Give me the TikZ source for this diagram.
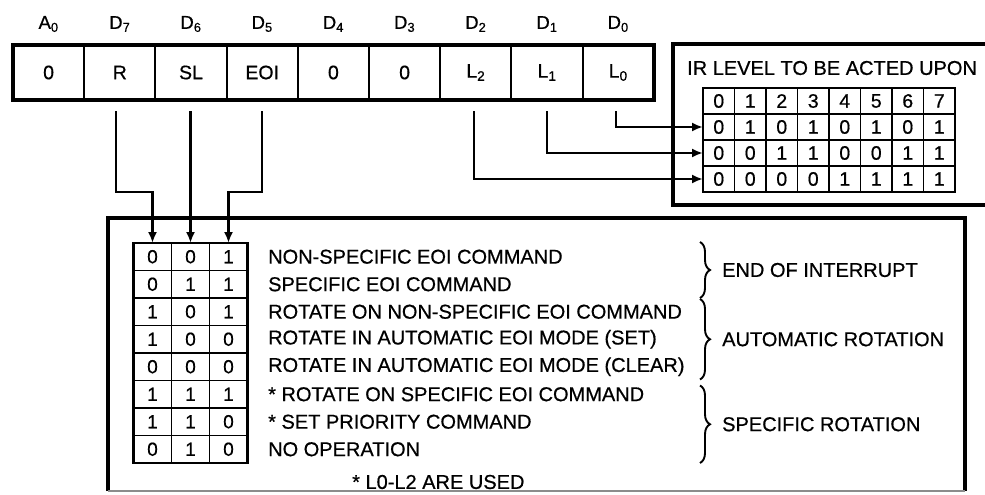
\documentclass[tikz,border=0pt]{standalone}
\usepackage{fontspec}
\setmainfont{Liberation Sans}[FakeBold=0.6]
\usetikzlibrary{arrows.meta,calc,decorations.pathreplacing}
\begin{document}
\begin{tikzpicture}[x=1pt,y=-1pt,
  regcell/.style={draw,line width=2pt,minimum width=71.2pt,minimum height=55pt,inner sep=0pt,outer sep=0pt,font=\fontsize{19.5}{22}\selectfont},
  reglab/.style={inner sep=0pt,font=\fontsize{18.5}{20}\selectfont},
  ircell/.style={draw,line width=1.8pt,minimum width=31.5pt,minimum height=26pt,inner sep=0pt,outer sep=0pt,font=\fontsize{19.5}{22}\selectfont},
  ltcell/.style={draw,line width=1.8pt,minimum width=38pt,minimum height=27.5pt,inner sep=0pt,outer sep=0pt,font=\fontsize{19}{22}\selectfont},
  frame/.style={line width=3.4pt,inner sep=0pt,outer sep=0pt},
  txt/.style={anchor=west,inner sep=0pt,font=\fontsize{20}{22}\selectfont},
  arr/.style={line width=2.2pt,-{Latex[length=11pt,width=9pt]}},
  bracestyle/.style={line width=1.9pt,decorate,decoration={brace,amplitude=10pt}}]
\useasboundingbox (0,0) rectangle (985,495);
\clip (0,0) rectangle (985,495);
\fill[white] (0,0) rectangle (985,495);

% register
\foreach \t [count=\i from 0] in {0,R,SL,EOI,0,0,L\textsubscript{2},L\textsubscript{1},L\textsubscript{0}}
  \node[regcell] (reg\i) at (48.6+71.2*\i,72.5) {\t};
\foreach \t [count=\i from 0] in {A\textsubscript{0},D\textsubscript{7},D\textsubscript{6},D\textsubscript{5},D\textsubscript{4},D\textsubscript{3},D\textsubscript{2},D\textsubscript{1},D\textsubscript{0}}
  \node[reglab] (lab\i) at (48.6+71.2*\i,24) {\t};
\draw[frame] (reg0.north west) rectangle (reg8.south east);

% IR box
\node[frame,draw,anchor=north west,minimum width=340pt,minimum height=161pt] (irbox) at (673,44) {};
\node[txt] (irtitle) at (687,68) {IR LEVEL TO BE ACTED UPON};
\foreach \c in {1,...,8}{
  \pgfmathtruncatemacro{\v}{\c-1}
  \pgfmathtruncatemacro{\ba}{mod(\v,2)}
  \pgfmathtruncatemacro{\bb}{mod(floor(\v/2),2)}
  \pgfmathtruncatemacro{\bc}{mod(floor(\v/4),2)}
  \node[ircell] (ir-1-\c) at (703+15.75+31.5*\c-31.5,101) {\v};
  \node[ircell] (ir-2-\c) at (703+15.75+31.5*\c-31.5,127) {\ba};
  \node[ircell] (ir-3-\c) at (703+15.75+31.5*\c-31.5,153) {\bb};
  \node[ircell] (ir-4-\c) at (703+15.75+31.5*\c-31.5,179) {\bc};
}
\draw[line width=2.2pt] (ir-1-1.north west) rectangle (ir-4-8.south east);

% lower box
\node[frame,anchor=north west,minimum width=857pt,minimum height=273pt] (lowbox) at (108,218) {};
\draw[frame] (lowbox.south west) -- (lowbox.north west) -- (lowbox.north east) -- (lowbox.south east);
\draw[black!45,line width=1.2pt] (lowbox.south west) -- (lowbox.south east);

\foreach \a/\b/\cc/\d [count=\r] in {
  0/0/1/{NON-SPECIFIC EOI COMMAND},
  0/1/1/{SPECIFIC EOI COMMAND},
  1/0/1/{ROTATE ON NON-SPECIFIC EOI COMMAND},
  1/0/0/{ROTATE IN AUTOMATIC EOI MODE (SET)},
  0/0/0/{ROTATE IN AUTOMATIC EOI MODE (CLEAR)},
  1/1/1/{* ROTATE ON SPECIFIC EOI COMMAND},
  1/1/0/{* SET PRIORITY COMMAND},
  0/1/0/{NO OPERATION}}{
  \node[ltcell] (lt-\r-1) at (152.5,256.75+27.5*\r-27.5) {\a};
  \node[ltcell] (lt-\r-2) at (190.5,256.75+27.5*\r-27.5) {\b};
  \node[ltcell] (lt-\r-3) at (228.5,256.75+27.5*\r-27.5) {\cc};
  \node[txt] (desc\r) at (268,256.75+27.5*\r-27.5) {\d};
}
\draw[line width=2.2pt] (lt-1-1.north west) rectangle (lt-8-3.south east);
\node[txt] (note) at (352,482) {* L0-L2 ARE USED};

% braces
\coordinate (bx) at (700,0);
\coordinate (b1s) at ($(bx |- lt-1-1.north)+(0,-1)$);
\coordinate (b1e) at ($(bx |- lt-2-1.south)+(0,0)$);
\coordinate (b2s) at ($(bx |- lt-3-1.north)+(0,1)$);
\coordinate (b2e) at ($(bx |- lt-5-1.south)+(0,-1)$);
\coordinate (b3s) at ($(bx |- lt-6-1.north)+(0,5)$);
\coordinate (b3e) at ($(bx |- lt-8-1.south)+(0,0)$);
\draw[bracestyle] (b1s) -- (b1e);
\draw[bracestyle] (b2s) -- (b2e);
\draw[bracestyle] (b3s) -- (b3e);
\node[txt] (grp1) at ($(b1s)!0.5!(b1e)+(22,0)$) {END OF INTERRUPT};
\node[txt] (grp2) at ($(b2s)!0.5!(b2e)+(22,0)$) {AUTOMATIC ROTATION};
\node[txt] (grp3) at ($(b3s)!0.5!(b3e)+(22,0)$) {SPECIFIC ROTATION};

% connectors to lower table
\draw[arr] ($(reg1.south)+(-4,11)$) -- ++(0,81) -| (lt-1-1.north);
\coordinate (slstart) at ($(reg2.south)+(0,11)$);
\draw[arr] (slstart -| lt-1-2.north) -- (lt-1-2.north);
\draw[arr] ($(reg3.south)+(0,11)$) -- ++(0,81) -| (lt-1-3.north);

% connectors to IR table
\draw[arr] ($(reg8.south)+(-2,11)$) |- (ir-2-1.west);
\draw[arr] ($(reg7.south)+(0,11)$) |- (ir-3-1.west);
\draw[arr] ($(reg6.south)+(-2,11)$) |- (ir-4-1.west);
\end{tikzpicture}
\end{document}
